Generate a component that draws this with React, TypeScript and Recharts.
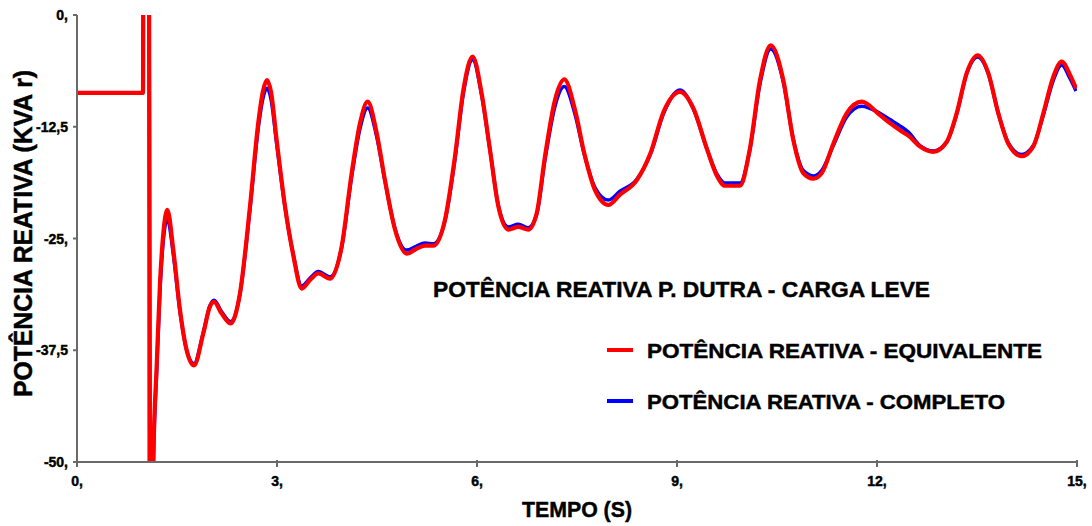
import React from 'react';
import { LineChart, Line, XAxis, YAxis, Legend, Label } from 'recharts';

const times = [
  0, 0.99, 0.995, 1.08, 1.09, 1.1, 1.13, 1.15, 1.195, 1.245, 1.295, 1.355, 1.445, 1.545, 1.645, 1.755,
  1.895, 1.995, 2.055, 2.17, 2.305, 2.445, 2.595, 2.72, 2.79, 2.85, 2.91, 2.995, 3.12, 3.245, 3.37,
  3.5, 3.62, 3.795, 3.97, 4.12, 4.245, 4.36, 4.495, 4.62, 4.77, 4.945, 5.08, 5.22, 5.345, 5.52, 5.67,
  5.795, 5.935, 6.07, 6.195, 6.32, 6.47, 6.62, 6.77, 6.895, 7.02, 7.17, 7.31, 7.47, 7.61, 7.77, 7.97,
  8.145, 8.395, 8.6, 8.8, 9.045, 9.25, 9.45, 9.6, 9.72, 9.945, 10.09, 10.245, 10.405, 10.595, 10.745,
  10.895, 11.045, 11.17, 11.345, 11.545, 11.77, 12.045, 12.195, 12.345, 12.47, 12.645, 12.845, 13.045,
  13.195, 13.345, 13.51, 13.67, 13.82, 13.97, 14.17, 14.345, 14.495, 14.645, 14.77, 14.895, 14.985,
];

const equivalente = [
  -8.7, -8.7, 5, 5, -56, -56, -56, -48, -39.3, -30, -24.4, -21.8, -26.3, -33.0, -37.5, -39.2,
  -35.6, -32.6, -32.1, -33.4, -34.5, -31.1, -21.4, -12.0, -8.5, -7.27, -8.6, -14, -21.4, -26.9, -30.6,
  -29.6, -28.9, -29.5, -25.9, -17.7, -12.1, -9.7, -13.2, -18.5, -24.0, -26.7, -26.2, -25.8, -25.8, -22.9, -15.8,
  -8.4, -4.66, -8.8, -15.1, -21.4, -24.0, -23.7, -24.0, -22.2, -15.8, -9.5, -7.2, -10.6, -15.5, -19.6, -21.25,
  -20.1, -18.5, -15.5, -10.8, -8.6, -10.5, -15.0, -18.0, -19.1, -19.1, -15.1, -7.3, -3.4, -7.3, -14.0,
  -17.7, -18.3, -17.7, -14.4, -11.0, -9.7, -11.2, -12.1, -12.9, -13.5, -14.7, -15.3, -14.2,
  -11.0, -6.5, -4.5, -6.5, -11.0, -14.4, -15.8, -14.7, -11.0, -6.9, -5.2, -6.7, -8.2,
];

const completo = [
  -8.7, -8.7, 5, 5, -23, -56, -56, -48.5, -39.8, -30.8, -25.2, -22.8, -26.8, -33.2, -37.5, -39.0,
  -35.5, -32.5, -31.9, -33.2, -34.3, -31.2, -21.7, -12.6, -9.3, -8.2, -9.4, -14.4, -21.5, -26.8, -30.3,
  -29.4, -28.7, -29.3, -26.0, -18.1, -12.7, -10.4, -13.6, -18.6, -23.9, -26.3, -25.9, -25.5, -25.6, -23.0, -16.1,
  -8.8, -5.0, -9.0, -15.1, -21.3, -23.7, -23.4, -23.8, -22.3, -16.2, -10.2, -8.0, -11.1, -15.6, -19.3, -20.7,
  -19.7, -18.4, -15.6, -11.0, -8.4, -10.6, -15.0, -17.8, -18.8, -18.8, -15.2, -7.7, -3.8, -7.5, -13.9,
  -17.4, -18.0, -17.4, -14.6, -11.4, -10.2, -11.0, -11.7, -12.4, -13.1, -14.6, -15.2, -14.2,
  -11.1, -6.6, -4.7, -6.6, -11.0, -14.3, -15.6, -14.6, -11.2, -7.3, -5.6, -7.1, -8.5,
];

const xTicks = [0, 3, 6, 9, 12, 15];
const xTickLabels = ['0,', '3,', '6,', '9,', '12,', '15,'];
const yTicks = [0, -12.5, -25, -37.5, -50];
const yTickLabels = ['0,', '-12,5', '-25,', '-37,5', '-50,'];

const seriesNames = ['POTÊNCIA REATIVA - EQUIVALENTE', 'POTÊNCIA REATIVA - COMPLETO'];
const seriesColors = ['#ff0000', '#0000ff'];
const chartTitle = 'POTÊNCIA REATIVA P. DUTRA - CARGA LEVE';
const xAxisTitle = 'TEMPO (S)';
const yAxisTitle = 'POTÊNCIA REATIVA (KVA r)';

const data = times.map((t, i) => ({ t, equivalente: equivalente[i], completo: completo[i] }));

const FONT = '"Liberation Sans", Arial, sans-serif';
const AXIS_COLOR = '#6a6a6a';
const heavy = { stroke: '#000', strokeWidth: 0.45, paintOrder: 'stroke' as const };

const BottomTick = (props: any) => {
  const { x, y, payload } = props;
  const idx = xTicks.indexOf(payload.value);
  return (
    <g>
      <line x1={x} x2={x} y1={y - 2} y2={y + 5} stroke={AXIS_COLOR} strokeWidth={2} />
      <text x={x} y={y + 24} textAnchor="middle" fontFamily={FONT} fontWeight="bold" fontSize={14} fill="#000" style={heavy}>
        {xTickLabels[idx]}
      </text>
    </g>
  );
};

const TopTick = (props: any) => {
  const { x, y } = props;
  return <line x1={x} x2={x} y1={y - 3} y2={y + 4} stroke={AXIS_COLOR} strokeWidth={2} />;
};

const LeftTick = (props: any) => {
  const { x, y, payload } = props;
  const idx = yTicks.indexOf(payload.value);
  return (
    <g>
      <line x1={x - 4} x2={x} y1={y} y2={y} stroke={AXIS_COLOR} strokeWidth={2} />
      <text x={x - 9} y={y + 5} textAnchor="end" fontFamily={FONT} fontWeight="bold" fontSize={14} fill="#000" style={heavy}>
        {yTickLabels[idx]}
      </text>
    </g>
  );
};

const LegendContent = () => (
  <svg width={480} height={95}>
    {seriesNames.map((name, i) => (
      <g key={name}>
        <line x1={7} x2={33} y1={20 + i * 51} y2={20 + i * 51} stroke={seriesColors[i]} strokeWidth={4} />
        <text
          x={47}
          y={28 + i * 51}
          fontFamily={FONT}
          fontWeight="bold"
          fontSize={20}
          fill="#000"
          style={heavy}
          textLength={i === 0 ? 395 : 358}
          lengthAdjust="spacingAndGlyphs"
        >
          {name}
        </text>
      </g>
    ))}
  </svg>
);

export default function App() {
  return (
    <div style={{ position: 'absolute', left: 0, top: 0, width: 1092, height: 526, background: '#fff' }}>
      <LineChart width={1092} height={526} data={data} margin={{ top: 15, right: 15, bottom: 0, left: 0 }}>
        <XAxis
          dataKey="t"
          type="number"
          domain={[0, 15]}
          ticks={xTicks}
          height={64}
          tickSize={0}
          tickMargin={0}
          tickLine={false}
          tick={<BottomTick />}
          axisLine={{ stroke: AXIS_COLOR, strokeWidth: 2 }}
          allowDataOverflow
        >
          <Label
            content={() => (
              <text x={522} y={517} fontFamily={FONT} fontWeight="bold" fontSize={22} fill="#000" style={heavy} textLength={110} lengthAdjust="spacingAndGlyphs">
                {xAxisTitle}
              </text>
            )}
          />
        </XAxis>
        <XAxis
          xAxisId="top"
          dataKey="t"
          type="number"
          orientation="top"
          domain={[0, 15]}
          ticks={xTicks}
          height={0}
          tickSize={0}
          tickMargin={0}
          tickLine={false}
          tick={<TopTick />}
          axisLine={{ stroke: AXIS_COLOR, strokeWidth: 2 }}
          allowDataOverflow
        />
        <YAxis
          type="number"
          domain={[-50, 0]}
          ticks={yTicks}
          width={77}
          tickSize={0}
          tickMargin={0}
          tickLine={false}
          tick={<LeftTick />}
          axisLine={{ stroke: AXIS_COLOR, strokeWidth: 2 }}
          allowDataOverflow
        >
          <Label
            content={() => (
              <text
                x={0}
                y={0}
                transform="translate(32, 397) rotate(-90)"
                fontFamily={FONT}
                fontWeight="bold"
                fontSize={25}
                fill="#000"
                style={heavy}
                textLength={327}
                lengthAdjust="spacingAndGlyphs"
              >
                {yAxisTitle}
              </text>
            )}
          />
        </YAxis>
        <Line
          dataKey="completo"
          name={seriesNames[1]}
          type="monotone"
          stroke={seriesColors[1]}
          strokeWidth={3.5}
          dot={false}
          activeDot={false}
          isAnimationActive={false}
        />
        <Line
          dataKey="equivalente"
          name={seriesNames[0]}
          type="monotone"
          stroke={seriesColors[0]}
          strokeWidth={4.2}
          dot={false}
          activeDot={false}
          isAnimationActive={false}
        />
        <Legend
          layout="horizontal"
          verticalAlign="middle"
          align="center"
          content={<LegendContent />}
          wrapperStyle={{ position: 'absolute', left: 600, top: 330, right: 'auto', bottom: 'auto', width: 480, height: 95 }}
        />
        <text x={433} y={297} fontFamily={FONT} fontWeight="bold" fontSize={22} fill="#000" style={heavy} textLength={497} lengthAdjust="spacingAndGlyphs">
          {chartTitle}
        </text>
      </LineChart>
    </div>
  );
}
